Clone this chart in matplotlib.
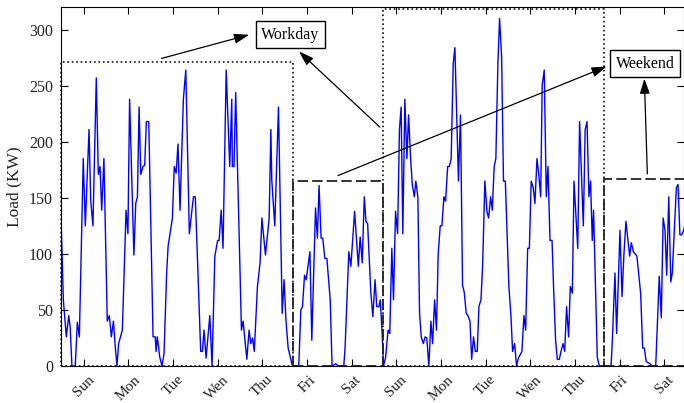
import matplotlib
matplotlib.use("Agg")
import matplotlib.pyplot as plt
from matplotlib.patches import Rectangle

plt.rcParams['font.family'] = ['Liberation Serif', 'DejaVu Serif']
plt.rcParams['lines.scale_dashes'] = False

# ---- data (hour index, load in KW) ----
hours = [0, 1.1, 2.7, 4, 4.8, 5.7, 7.5, 8.6, 9.7, 11.8, 12.9, 14.9, 15.8, 17, 18.8, 19.9, 20.8, 21.7, 22.9,
         24.7, 25.8, 26.9, 28, 29, 29.9, 30.8, 32.8, 34.8, 35.8, 36.7, 39, 40, 40.9, 41.8, 42.7, 43.9, 44.8,
         45.7, 47, 49.3, 50.5, 50.9, 51.6, 52.9, 54.1, 55.2,
         56.6, 57.4, 59.7, 60.7, 61.7, 62.7, 63.8, 65.6, 66.9, 68.8, 71, 72, 74.9, 75.8, 76.7, 77.8, 79.8,
         81, 82.5, 84, 84.8, 85.9, 86.9, 88.6, 90.5, 91.6, 91.9, 92.8, 93.7, 96.8, 97.7, 99.7, 100.9, 101.8,
         102.8, 103.7, 105.4, 106.8, 107.8, 109.7, 111.7, 112.6,
         113.1, 114.7, 116.7, 118.7, 119.7, 120.7, 121.9, 124.2, 127.6, 128.7, 129.6, 130.7, 131.6, 133.6,
         134.6, 136.6, 137.6, 138.5, 139.6, 140.5, 141.6, 142.7, 144.5, 145.5, 147.5, 148.8, 151.8, 152.5,
         154.5, 155.6, 157.6, 159.6, 160.6, 161.7, 162.8, 163.7, 164.6, 166.3, 167.4, 168.6,
         169.5, 170.7, 171.4, 172.4, 173.1, 174.2, 175.6, 176.5, 177.6, 178.5, 179.6, 180.7, 181.7, 182.6,
         183.5, 184.6, 185.7, 186.6, 187.7, 188.6, 189.7, 190.5, 191.6, 192.5, 193.4, 194.5, 195.5, 196.4,
         197.5, 198.6, 199.5, 200.6, 201.6, 202.5, 203.6, 204.5, 205.6, 206.5, 207.6, 208.5, 209.5, 210.6,
         211.5, 213.4, 214.5, 215.6, 216.5, 217.6, 218.5, 219.6, 220.5, 221.5, 222.5, 223.5, 224.4, 225.5,
         226.4, 227.6, 228.7, 229.6, 230.7, 231.6, 232.6, 233.5, 234.6, 235.5, 236.6, 237.6, 238.6, 240.5,
         241.6, 242.5, 243.6, 244.6, 245.6, 247.5, 248.6, 249.5, 250.6, 251.5, 252.5, 253.6, 254.5, 255.6,
         256.5, 257.6, 258.4, 259.5, 260.6, 261.5, 262.6, 263.7, 264.5, 265.6, 266.5, 267.6, 268.5, 269.6,
         270.5, 271.5, 272.6, 273.5, 274.6, 275.5, 277.5, 278.5, 280.5, 281.5, 282.5, 283.5, 284.4, 285.3,
         286.0, 288, 289.1, 295.4, 296.1, 297.5, 298.4, 300.2, 301.3, 302.3, 303.4, 305.4, 306.3, 307.4,
         309.3, 311.3, 312.4, 313.3, 314.3, 316.3, 317.4, 319.4, 321.3, 322.4, 323.4, 324.4, 325.3, 326.4,
         327.5, 328.3, 329.4, 330.5, 331.4, 332.4, 333.3, 334.4, 334.8]
load = [125, 59, 26, 45, 34, 0, 0, 39, 26, 185, 125, 211, 148, 125, 257, 171, 178, 139, 185,
        40, 45, 26, 40, 17, 0, 20, 32, 139, 118, 238, 99, 145, 151, 231, 171, 178, 179,
        218, 218, 26, 26, 13, 26, 8, 0, 11,
        83, 107, 132, 178, 172, 198, 139, 238, 264, 118, 151, 151, 13, 13, 32, 7, 45,
        0, 98, 112, 112, 139, 105, 264, 178, 238, 178, 178, 244, 32, 40, 6, 32, 20,
        25, 13, 71, 92, 132, 99, 132, 211,
        166, 125, 231, 47, 77, 41, 16, 0, 0, 50, 53, 81, 77, 102,
        23, 141, 114, 161, 114, 114, 96, 96, 59, 0, 2, 0, 0, 17,
        102, 89, 138, 89, 115, 92, 151, 129, 127, 66, 44, 77,
        53, 53, 59, 29, 0, 7, 32, 29, 105, 59, 138, 118, 211, 231,
        118, 238, 185, 224, 185, 162, 151, 165, 151, 47, 26, 20, 26, 25,
        0, 40, 20, 59, 32, 99, 125, 125, 151, 147, 178, 178, 185, 270,
        284, 165, 224, 72, 66, 47, 45, 40, 6, 26, 13, 13, 53, 59,
        90, 165, 138, 132, 151, 139, 178, 185, 270, 310, 276, 165, 165, 71,
        45, 13, 20, 0, 7, 13, 45, 32, 105, 105, 165, 159, 145, 185,
        172, 151, 251, 264, 151, 178, 112, 112, 71, 23, 6, 6, 13, 20,
        13, 53, 26, 71, 65, 165, 105, 218, 125, 211, 218, 151, 165, 112,
        139, 8, 0, 0, 23, 83, 29, 121, 62, 99, 129, 98, 110, 102,
        98, 65, 16, 16, 4, 2, 0, 0, 80, 43, 132, 121, 81, 151,
        75, 83, 121, 159, 162, 117, 117, 121, 124]

day_labels = ['Sun', 'Mon', 'Tue', 'Wen', 'Thu', 'Fri', 'Sat',
              'Sun', 'Mon', 'Tue', 'Wen', 'Thu', 'Fri', 'Sat']
day_ticks = [12 + 24 * i for i in range(len(day_labels))]

# region boundaries (hours) and heights
workday_regions = [(0, 124.4, 271), (173.1, 291.6, 318.5)]
weekend_regions = [(124.4, 173.1, 165), (291.6, 345, 167)]

fig = plt.figure(figsize=(6.84, 4.03), dpi=100)
ax = fig.add_axes([61.3 / 684, 37 / 403, 622.7 / 684, 358.7 / 403])

ax.plot(hours, load, color='#0000FF', lw=1.0, zorder=2)

for x0, x1, h in workday_regions:
    ax.add_patch(Rectangle((x0, 0), x1 - x0, h, fill=False, edgecolor='#111111',
                           lw=1.2, linestyle=(0, (1.2, 2.0)), zorder=3, clip_on=False))
for x0, x1, h in weekend_regions:
    ax.add_patch(Rectangle((x0, 0), x1 - x0, h, fill=False, edgecolor='#222222',
                           lw=1.3, linestyle=(0, (7.5, 3.0)), zorder=3, clip_on=True))

ax.set_xlim(0, 334.6)
ax.set_ylim(0, 320)
ax.set_yticks([0, 50, 100, 150, 200, 250, 300])
ax.set_xticks(day_ticks)
ax.set_xticklabels(day_labels, rotation=45, fontsize=11, color='#222222')
for t in ax.get_yticklabels():
    t.set_fontsize(11.5)
    t.set_color('#222222')
ax.tick_params(direction='in', top=True, right=True, length=5, width=0.8)
ax.tick_params(axis='x', pad=5)
ax.tick_params(axis='y', pad=6)
ax.set_ylabel('Load (KW)', fontsize=12.5, color='#222222', labelpad=5)
for s in ax.spines.values():
    s.set_linewidth(0.8)

bbox = dict(boxstyle='square,pad=0.35', fc='white', ec='black', lw=1.0)
ax.text(123.2, 295.5, 'Workday', fontsize=11.5, ha='center', va='center', bbox=bbox, zorder=5)
ax.text(313.8, 269.6, 'Weekend', fontsize=11.5, ha='center', va='center', bbox=bbox, zorder=5)

arrow = dict(arrowstyle='-|>,head_length=0.9,head_width=0.3', color='black', lw=0.9,
             shrinkA=0, shrinkB=0)
ax.annotate('', xy=(100.9, 295.5), xytext=(53.9, 274.4), arrowprops=arrow, zorder=6)
ax.annotate('', xy=(127.7, 280.6), xytext=(171.2, 213.1), arrowprops=arrow, zorder=6)
ax.annotate('', xy=(293.0, 267.2), xytext=(148.7, 169.9), arrowprops=arrow, zorder=6)
ax.annotate('', xy=(313.3, 256.3), xytext=(314.9, 171.4), arrowprops=arrow, zorder=6)

fig.savefig('out.png', dpi=100)
